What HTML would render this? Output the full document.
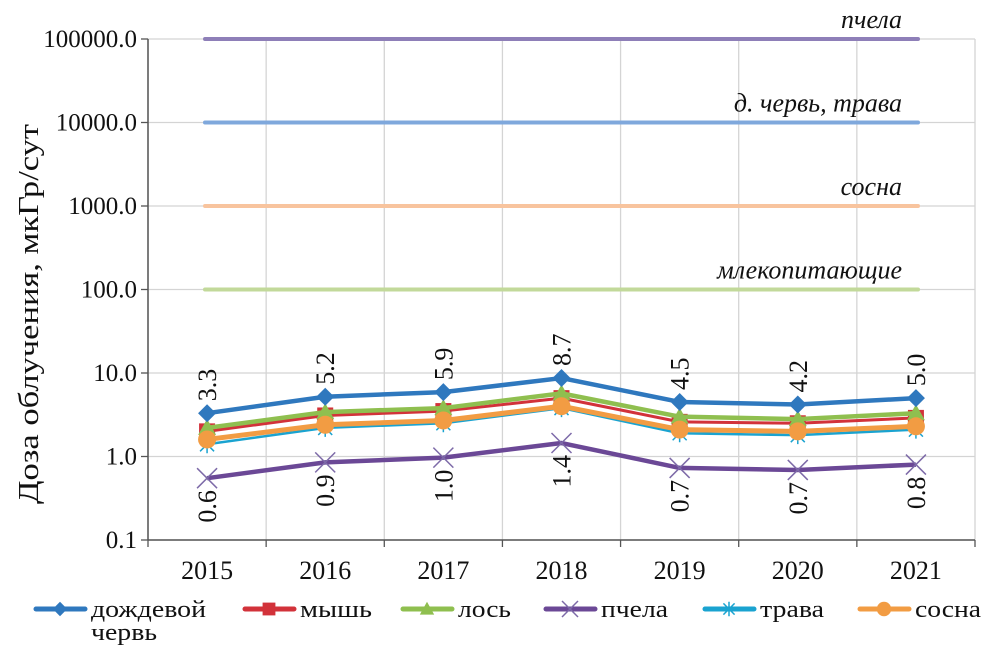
<!DOCTYPE html>
<html><head><meta charset="utf-8"><style>
body{margin:0;background:#fff}
svg{display:block}
text{font-family:"Liberation Serif",serif}
</style></head><body>
<svg id="chart" width="1008" height="655" viewBox="0 0 1008 655" xmlns="http://www.w3.org/2000/svg">
<g id="grid"></g>
<g id="refs"></g>
<g id="series"></g>
<g id="axes"></g>
<text transform="translate(38,314) rotate(-90)" text-anchor="middle" font-size="29" fill="#111" textLength="380" lengthAdjust="spacingAndGlyphs">Доза облучения, мкГр/сут</text>
<g id="legend"></g>
</svg>
<script>
const categories=["2015","2016","2017","2018","2019","2020","2021"];
const yTicks=[0.1,1,10,100,1000,10000,100000];
const yTickLabels=["0.1","1.0","10.0","100.0","1000.0","10000.0","100000.0"];
const worm=[3.3,5.2,5.9,8.7,4.5,4.2,5.0];
const mouse=[2.0,3.1,3.5,5.0,2.6,2.5,2.9];
const moose=[2.2,3.4,3.8,5.7,3.0,2.8,3.3];
const bee=[0.55,0.85,0.97,1.45,0.73,0.69,0.8];
const grass=[1.4,2.2,2.5,3.8,1.9,1.8,2.1];
const pine=[1.6,2.4,2.7,4.0,2.1,2.0,2.3];
const wormLabels=["3.3","5.2","5.9","8.7","4.5","4.2","5.0"];
const beeLabels=["0.6","0.9","1.0","1.4","0.7","0.7","0.8"];
const refValues=[100000,10000,1000,100];
const refLabels=["пчела","д. червь, трава","сосна","млекопитающие"];
const refColors=["#8e7fb8","#7fa8dc","#f8c49e","#c2d99a"];

const NS="http://www.w3.org/2000/svg";
const L=148,R=975,T=39,B=540;
const bw=(R-L)/categories.length;
function x(i){return L+bw*(i+0.5);}
function y(v){return B-(Math.log10(v)+1)*(B-T)/6;}
function mk(tag,attrs,parent){const e=document.createElementNS(NS,tag);for(const k in attrs)e.setAttribute(k,attrs[k]);parent.appendChild(e);return e;}
const grid=document.getElementById('grid'),axes=document.getElementById('axes'),refs=document.getElementById('refs'),ser=document.getElementById('series'),leg=document.getElementById('legend');
yTicks.forEach((v,i)=>{
  const l=mk('line',{x1:L,x2:R,y1:y(v),y2:y(v),stroke:'#d4d4d4','stroke-width':1.3},grid);
  
  
  const t=mk('line',{x1:L-7,x2:L,y1:y(v),y2:y(v),stroke:'#555','stroke-width':1.3},axes);
  
  
  const tx=mk('text',{x:137,y:y(v)+8,'text-anchor':'end','font-size':25,fill:'#111'},axes);
  tx.textContent=yTickLabels[i];
  
  
});
for(let i=0;i<=categories.length;i++){
  const xx=L+bw*i;
  const g=mk('line',{x1:xx,x2:xx,y1:T,y2:B,stroke:'#d4d4d4','stroke-width':1.3},grid);
  
  
  const t=mk('line',{x1:xx,x2:xx,y1:B,y2:B+7,stroke:'#555','stroke-width':1.3},axes);
  
  
}
mk('line',{x1:L,x2:L,y1:T,y2:B,stroke:'#555','stroke-width':1.5},axes);
mk('line',{x1:L,x2:R,y1:B,y2:B,stroke:'#555','stroke-width':1.5},axes);
categories.forEach((c,i)=>{
  const t=mk('text',{x:x(i),y:579,'text-anchor':'middle','font-size':26,fill:'#111'},axes);
  t.textContent=c;
  
  
});
refValues.forEach((v,i)=>{
  const l=mk('line',{x1:205,x2:918,y1:y(v),y2:y(v),stroke:refColors[i],'stroke-width':4,'stroke-linecap':'round'},refs);
  
  
  const t=mk('text',{x:902,y:y(v)-11,'text-anchor':'end','font-size':26,'font-style':'italic',fill:'#111'},refs);
  t.textContent=refLabels[i];
  
  
});
function marker(type,cx,cy,col,p,s){
  s=s||1;
  let e;
  if(type==='diamond')e=mk('polygon',{points:`${cx},${cy-9*s} ${cx+9*s},${cy} ${cx},${cy+9*s} ${cx-9*s},${cy}`,fill:col},p);
  else if(type==='square')e=mk('rect',{x:cx-8*s,y:cy-8*s,width:16*s,height:16*s,fill:col},p);
  else if(type==='triangle')e=mk('polygon',{points:`${cx},${cy-9*s} ${cx+9*s},${cy+7*s} ${cx-9*s},${cy+7*s}`,fill:col},p);
  else if(type==='circle')e=mk('circle',{cx:cx,cy:cy,r:9*s,fill:col},p);
  else if(type==='x')e=mk('path',{d:`M${cx-10*s},${cy-10*s}L${cx+10*s},${cy+10*s}M${cx-10*s},${cy+10*s}L${cx+10*s},${cy-10*s}`,stroke:col,'stroke-width':1.5},p);
  else if(type==='star')e=mk('path',{d:`M${cx-7*s},${cy-7*s}L${cx+7*s},${cy+7*s}M${cx-7*s},${cy+7*s}L${cx+7*s},${cy-7*s}M${cx},${cy-9*s}L${cx},${cy+9*s}`,stroke:col,'stroke-width':1.5},p);
  return e;
}
const seriesDefs=[
 {name:'grass',data:grass,col:'#1aa3d0',m:'star',w:2.5},
 {name:'mouse',data:mouse,col:'#d2323a',m:'square',w:3},
 {name:'moose',data:moose,col:'#8fbf4f',m:'triangle',w:4.5},
 {name:'pine',data:pine,col:'#f29c43',m:'circle',w:5},
 {name:'bee',data:bee,col:'#6b4896',m:'x',w:4.5},
 {name:'worm',data:worm,col:'#2f78be',m:'diamond',w:4.5}
];
seriesDefs.forEach(s=>{
  const g=mk('g',{},ser);
  
  
  const pts=s.data.map((v,i)=>x(i)+','+y(v)).join(' ');
  const pl=mk('polyline',{points:pts,fill:'none',stroke:s.col,'stroke-width':s.w,'stroke-linejoin':'round'},g);
  
  
  s.data.forEach((v,i)=>{
    const m=marker(s.m,x(i),y(v),s.m==='x'?'#7d6aa8':s.col,g);
    
    
  });
});
worm.forEach((v,i)=>{
  const t=mk('text',{transform:`translate(${x(i)+9},${y(v)-12}) rotate(-90)`,'text-anchor':'start','font-size':26,fill:'#111'},ser);
  t.textContent=wormLabels[i];
  
  
});
bee.forEach((v,i)=>{
  const t=mk('text',{transform:`translate(${x(i)+9},${y(v)+12}) rotate(-90)`,'text-anchor':'end','font-size':26,fill:'#111'},ser);
  t.textContent=beeLabels[i];
  
  
});
const legOrder=[['worm','#2f78be','diamond','дождевой',36,115],['mouse','#d2323a','square','мышь',245,72],['moose','#8fbf4f','triangle','лось',403,53],['bee','#6b4896','x','пчела',546,67],['grass','#1aa3d0','star','трава',705,64],['pine','#f29c43','circle','сосна',860,66]];
legOrder.forEach(o=>{
  const g=mk('g',{},leg);
  
  
  const lx=o[4];
  mk('line',{x1:lx,x2:lx+49,y1:609,y2:609,stroke:o[1],'stroke-width':5,'stroke-linecap':'round'},g);
  marker(o[2],lx+24,609,o[2]==='x'?'#7d6aa8':o[1],g,0.8);
  const t=mk('text',{x:lx+55,y:617,'font-size':24,fill:'#111',textLength:o[5],lengthAdjust:'spacingAndGlyphs'},g);
  t.textContent=o[3];
  if(o[0]==='worm'){const t2=mk('text',{x:lx+55,y:640,'font-size':24,fill:'#111',textLength:66,lengthAdjust:'spacingAndGlyphs'},g);t2.textContent='червь';}
});
</script>
</body></html>
